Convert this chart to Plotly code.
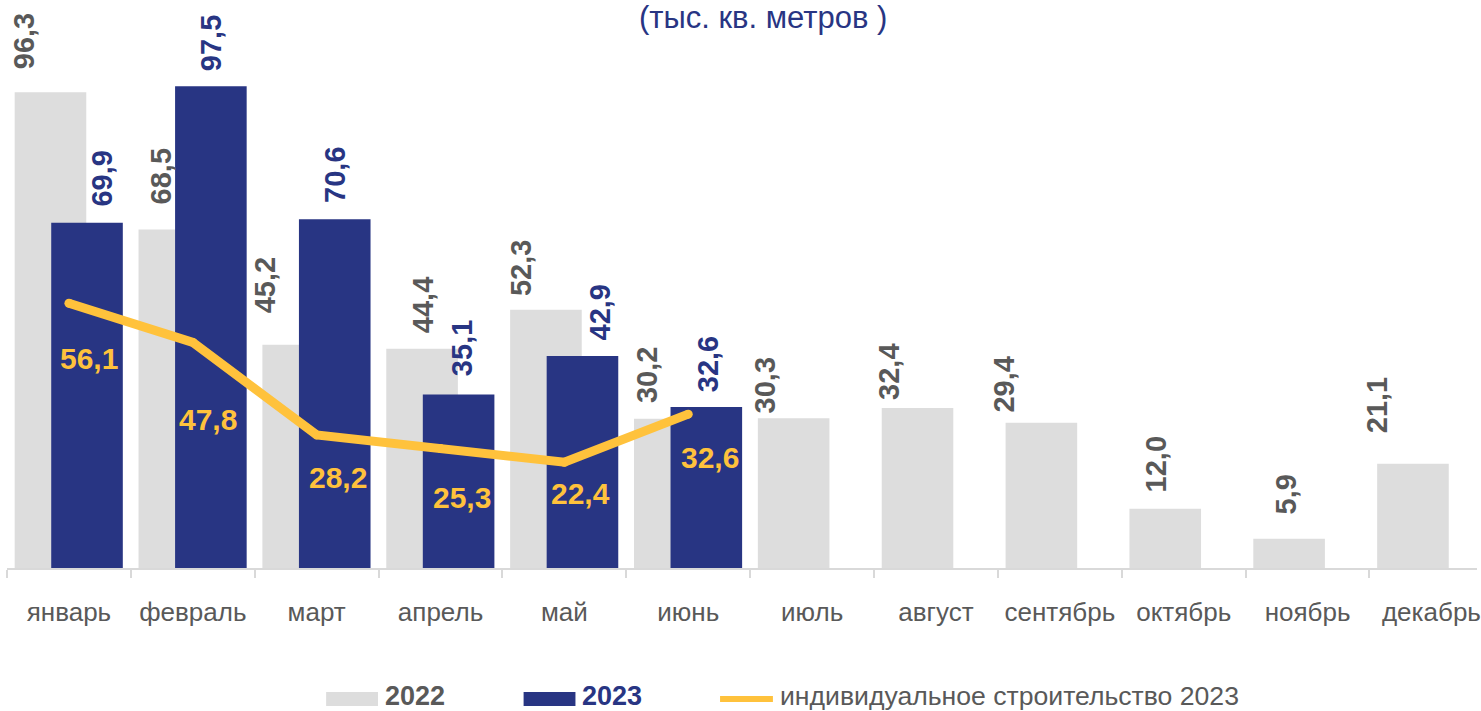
import plotly.graph_objects as go

# Monthly commissioning, thousand sq. metres
months = ["январь", "февраль", "март", "апрель", "май", "июнь",
          "июль", "август", "сентябрь", "октябрь", "ноябрь", "декабрь"]
values_2022 = [96.3, 68.5, 45.2, 44.4, 52.3, 30.2, 30.3, 32.4, 29.4, 12.0, 5.9, 21.1]
months_2023 = months[:6]
values_2023 = [69.9, 97.5, 70.6, 35.1, 42.9, 32.6]
individual_2023 = [56.1, 47.8, 28.2, 25.3, 22.4, 32.6]

GRAY = "#DDDDDD"
NAVY = "#283583"
GOLD = "#FFC23C"
TEXT_GRAY = "#595959"
FONT = "Liberation Sans, Arial, sans-serif"

BAR_W = 0.578
OFF_2022 = -0.438
OFF_2023 = -0.143

# label nudges (px): horizontal shift from the category centre, vertical gap above the bar
dx_2022 = [-45, -32, -52, -18, -44, -41, -47, -47, -56, -28, -22, -55]
gap_2022 = [24, 26, 32, 16, 15, 17, 6, 9, 11, 17, 25, 32]
dx_2023 = [33, 19, 19, 21, 36, 20]
gap_2023 = [17, 16, 17, 19, 17, 16]
# line labels: offset of label centre from the line point
dx_line = [20, 15, 21, 21, 16, 22]
dy_line = [-55, -77, -43, -49, -31, -43]


def fmt(v):
    return f"{v:.1f}".replace(".", ",")


fig = go.Figure()
fig.add_trace(go.Bar(x=months, y=values_2022, name="2022", marker_color=GRAY,
                     width=BAR_W, offset=OFF_2022, marker_line_width=0))
fig.add_trace(go.Bar(x=months_2023, y=values_2023, name="2023", marker_color=NAVY,
                     width=BAR_W, offset=OFF_2023, marker_line_width=0))
fig.add_trace(go.Scatter(x=months_2023, y=individual_2023, yaxis="y2",
                         mode="lines+markers", name="индивидуальное строительство 2023",
                         line=dict(color=GOLD, width=9),
                         marker=dict(color=GOLD, size=9)))

ann = []
for m, v, dx, g in zip(months, values_2022, dx_2022, gap_2022):
    ann.append(dict(x=m, y=v, xref="x", yref="y", text=f"<b>{fmt(v)}</b>",
                    textangle=-90, showarrow=False, xanchor="center", yanchor="bottom",
                    xshift=dx, yshift=g - 2, borderpad=0,
                    font=dict(family=FONT, size=29, color=TEXT_GRAY)))
for m, v, dx, g in zip(months_2023, values_2023, dx_2023, gap_2023):
    ann.append(dict(x=m, y=v, xref="x", yref="y", text=f"<b>{fmt(v)}</b>",
                    textangle=-90, showarrow=False, xanchor="center", yanchor="bottom",
                    xshift=dx, yshift=g - 2, borderpad=0,
                    font=dict(family=FONT, size=29, color=NAVY)))
for m, v, dx, dy in zip(months_2023, individual_2023, dx_line, dy_line):
    ann.append(dict(x=m, y=v, xref="x", yref="y2", text=f"<b>{fmt(v)}</b>",
                    showarrow=False, xanchor="center", yanchor="middle",
                    xshift=dx, yshift=dy, borderpad=0,
                    font=dict(family=FONT, size=30, color=GOLD)))

# chart subtitle
ann.append(dict(text="(тыс. кв. метров )", xref="paper", yref="paper",
                x=(765 - 7) / 1474, y=(568 - 17) / 568, showarrow=False,
                xanchor="center", yanchor="middle", borderpad=0,
                font=dict(family=FONT, size=31, color=NAVY)))


def px(xp):
    return (xp - 7) / 1474


def py(yp):
    return (568 - yp) / 568


# custom legend row
shapes = [
    dict(type="rect", xref="paper", yref="paper", x0=px(327), x1=px(379),
         y0=py(706), y1=py(692), fillcolor=GRAY, line_width=0),
    dict(type="rect", xref="paper", yref="paper", x0=px(525), x1=px(577),
         y0=py(706), y1=py(692), fillcolor=NAVY, line_width=0),
    dict(type="line", xref="paper", yref="paper", x0=px(722), x1=px(775),
         y0=py(699), y1=py(699), line=dict(color=GOLD, width=6)),
]
legend_items = [(385, "<b>2022</b>", TEXT_GRAY, 27), (583, "<b>2023</b>", NAVY, 27),
                (781, "индивидуальное строительство 2023", TEXT_GRAY, 26.6)]
for xp, t, c, s in legend_items:
    ann.append(dict(text=t, xref="paper", yref="paper", x=px(xp), y=py(695.5),
                    showarrow=False, xanchor="left", yanchor="middle", borderpad=0,
                    font=dict(family=FONT, size=s, color=c)))

fig.update_layout(
    width=1481, height=711,
    margin=dict(l=7, r=0, t=0, b=143),
    paper_bgcolor="white", plot_bgcolor="white",
    barmode="overlay", showlegend=False,
    annotations=ann, shapes=shapes,
    xaxis=dict(type="category", categoryorder="array", categoryarray=months,
               range=[-0.5, 11.368], showgrid=False, zeroline=False,
               showline=True, linecolor="#D9D9D9", linewidth=2,
               ticks="outside", tickson="boundaries", ticklen=8,
               tickcolor="#D9D9D9", tickwidth=2, ticklabelstandoff=20,
               tickfont=dict(family=FONT, size=26, color=TEXT_GRAY)),
    yaxis=dict(range=[0, 568 / 4.94], visible=False, fixedrange=True),
    yaxis2=dict(range=[0, 568 / 4.72], overlaying="y", visible=False),
)

fig.write_html("out.html")
